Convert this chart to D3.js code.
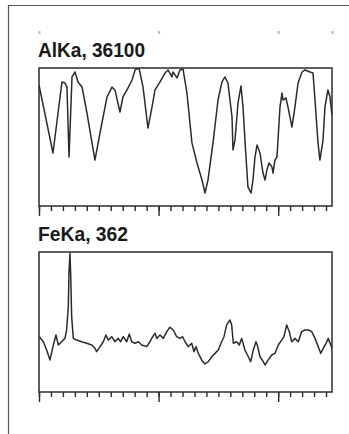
<!DOCTYPE html>
<html>
<head>
<meta charset="utf-8">
<script src="https://cdn.jsdelivr.net/npm/d3@7"></script>
<style>
  body { margin: 0; background: #fff; }
  svg { display: block; }
  .title { font-family: "Liberation Sans", Arial, sans-serif; font-weight: bold; font-size: 21px; fill: #1a1a1a; }
  .trace { fill: none; stroke: #2b2b2b; stroke-width: 1.5; stroke-linejoin: round; }
  .box { fill: none; stroke: #2b2b2b; stroke-width: 1.5; }
  .ax path, .ax line { stroke: #2b2b2b; stroke-width: 1.4; }
  .ghost line { stroke: #b8b8c0; stroke-width: 2; }
</style>
</head>
<body>
<div class="graphic"></div>
<script>
// channel titles
const titles = ["AlKa, 36100", "FeKa, 362"]

// x positions in axis units, y as % of full scale
const alX = [0,1.17,1.92,2.17,2.34,2.51,2.76,3.01,3.26,3.6,4.01,4.68,5.1,5.69,6.1,6.35,6.77,7.02,7.36,7.78,8.03,8.36,8.7,9.11,9.45,9.7,10.12,10.54,10.79,11.12,11.2,11.54,11.79,12.04,12.37,12.79,13.21,13.63,13.88,14.13,14.55,14.97,15.3,15.55,15.8,16.14,16.22,16.39,16.64,16.89,17.06,17.22,17.47,17.73,17.89,18.06,18.23,18.48,18.73,18.9,19.06,19.23,19.48,19.57,19.73,19.9,20.15,20.32,20.4,20.65,20.82,21.15,21.4,21.66,21.99,22.24,22.66,22.91,23.08,23.33,23.49,23.75,23.91,24.16,24.33,24.5]
const alY = [87.7,38.4,89.9,89.1,86.2,35.5,93.5,97.1,89.9,86.2,67.4,33.3,52.9,79,86.2,84.1,68.1,79,84.1,91.3,98.6,100,86.2,56.5,71.7,84.1,89.9,96.4,98.6,93.5,97.1,92.8,98.6,99.3,81.9,45.7,31.2,18.8,9.4,18.8,45.7,76.8,89.9,93.5,89.1,64.5,40.6,47.8,74.6,87,71.7,47.8,13.8,9.4,18.8,35.5,44.2,38.4,23.9,18.8,26.1,31.2,28.3,23.9,33.3,35.5,71.7,81.9,76.8,78.3,71.7,57.2,71.7,89.1,97.1,98.6,97.1,96.4,76.8,45.7,33.3,47.8,71.7,84.1,79,65.9]

const feX = [0.03,0.36,0.64,0.92,1.2,1.42,1.62,1.89,2.17,2.31,2.45,2.51,2.59,2.65,2.73,2.87,3.15,3.57,3.99,4.41,4.68,4.82,5.1,5.38,5.6,5.8,6.08,6.35,6.63,6.83,7.05,7.33,7.55,7.75,8.03,8.31,8.59,9.01,9.28,9.5,9.7,9.84,10.12,10.39,10.68,10.95,11.23,11.51,11.79,12.01,12.21,12.48,12.77,12.96,13.13,13.32,13.6,13.88,14.16,14.44,14.72,14.99,15.27,15.47,15.69,15.97,16.11,16.25,16.53,16.75,16.95,17.22,17.5,17.7,17.92,18.14,18.25,18.48,18.75,18.9,19.17,19.46,19.73,20.01,20.29,20.48,20.71,20.93,21.13,21.4,21.68,21.96,22.24,22.52,22.8,23.08,23.35,23.55,23.77,24,24.19,24.39,24.52]
const feY = [39.5,35.9,30,22.9,33.6,40.7,33.6,35.9,38.3,44.3,60.9,85.9,99,83.6,53.8,38.3,37.1,35.9,34.8,33.6,31.2,28.8,32.4,35.9,40.7,37.1,39.5,35.9,38.3,35.9,39.5,35.9,41.4,35.9,34.8,35.9,33.6,32.4,35.9,39.5,41.9,38.3,40.7,38.3,43.1,46.2,44.3,39.5,38.3,39.5,35.9,32.4,34.8,28.8,32.4,27.6,22.9,20,21.7,25.2,27.6,30,35.9,39.5,47.9,51.4,47.9,34.8,35.9,33.6,38.3,30,25.2,21.7,30,35.9,33.6,25.2,21.7,19.3,22.9,26.4,27.6,33.6,37.1,39.5,47.9,43.1,35.9,38.3,35.9,43.1,44.3,44.3,43.1,38.3,32.4,27.6,31.2,34.8,38.3,33.6,31.2]

const minorTicks = d3.range(0, 25)
const majorTicks = [0, 10, 20]

const width = 349, height = 434

const svg = d3.select('.graphic').append('svg')
    .attr('width', width)
    .attr('height', height)

// outer frame, only top and left edges are in view
svg.append('path')
    .attr('d', 'M8.5 434 L8.5 5.5 L349 5.5')
    .attr('fill', 'none')
    .attr('stroke', '#555')
    .attr('stroke-width', 1.2)

const x = d3.scaleLinear().domain([0, 24.5]).range([39, 332])

// faint leftover ticks from a panel cut off above
svg.append('g')
    .attr('class', 'ghost')
    .attr('transform', 'translate(0,31)')
    .call(d3.axisBottom(x).tickValues([0, 10, 20, 24.5]).tickSize(3).tickFormat(''))
    .call(g => g.select('.domain').remove())

const panels = [
    {title: titles[0], xs: alX, ys: alY, top: 68, bottom: 206, base: 57},
    {title: titles[1], xs: feX, ys: feY, top: 252, bottom: 392, base: 241}
]

panels.forEach(function(p, i){
    const y = d3.scaleLinear().domain([0, 100]).range([p.bottom, p.top])
    const g = svg.append('g')

    g.append('text')
        .attr('class', 'title')
        .attr('x', 38)
        .attr('y', p.base)
        .attr('textLength', i == 0 ? 107 : 90)
        .attr('lengthAdjust', 'spacingAndGlyphs')
        .text(p.title)

    g.append('clipPath')
        .attr('id', 'clip' + i)
        .append('rect')
        .attr('x', x(0)).attr('y', p.top)
        .attr('width', x(24.5) - x(0)).attr('height', p.bottom - p.top)

    const line = d3.line()
        .x(function(d, j){ return x(p.xs[j]) })
        .y(function(d){ return y(d) })

    g.append('path')
        .datum(p.ys)
        .attr('class', 'trace')
        .attr('clip-path', 'url(#clip' + i + ')')
        .attr('d', line)

    g.append('rect')
        .attr('class', 'box')
        .attr('x', x(0)).attr('y', p.top)
        .attr('width', x(24.5) - x(0)).attr('height', p.bottom - p.top)

    g.append('g')
        .attr('class', 'ax')
        .attr('transform', 'translate(0,' + p.bottom + ')')
        .call(d3.axisBottom(x).tickValues(minorTicks).tickSize(5).tickSizeOuter(0).tickFormat(''))
        .call(a => a.select('.domain').remove())

    g.append('g')
        .attr('class', 'ax')
        .attr('transform', 'translate(0,' + p.bottom + ')')
        .call(d3.axisBottom(x).tickValues(majorTicks).tickSize(10).tickFormat(''))
        .call(a => a.select('.domain').remove())
})
</script>
</body>
</html>
